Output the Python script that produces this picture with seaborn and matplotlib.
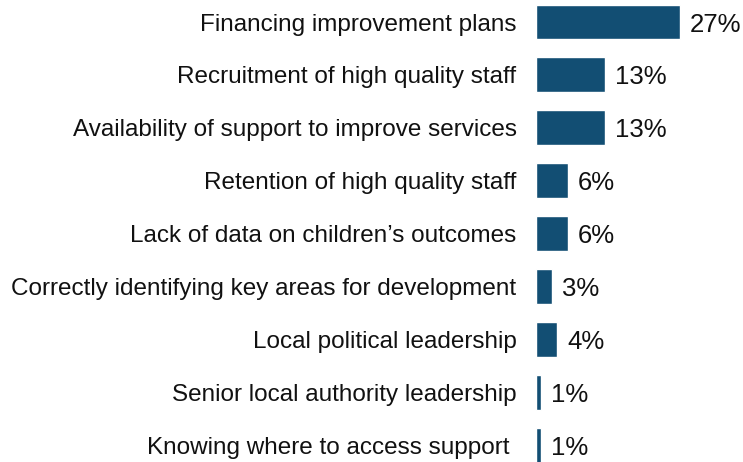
import pandas as pd
import matplotlib
import matplotlib.pyplot as plt
import seaborn as sns

matplotlib.use('Agg')

categories = [
    'Financing improvement plans',
    'Recruitment of high quality staff',
    'Availability of support to improve services',
    'Retention of high quality staff',
    'Lack of data on children\u2019s outcomes',
    'Correctly identifying key areas for development',
    'Local political leadership',
    'Senior local authority leadership',
    'Knowing where to access support ',
]
values = [27, 13, 13, 6, 6, 3, 4, 1, 1]
value_labels = ['27%', '13%', '13%', '6%', '6%', '3%', '4%', '1%', '1%']

bar_color = '#124e73'

df = pd.DataFrame({'Category': categories, 'Value': values})

sns.set_style('white')
plt.rcParams['font.family'] = ['Liberation Sans', 'DejaVu Sans']

fig = plt.figure(figsize=(7.43, 4.62), dpi=100)
ax = fig.add_axes([0.7214, 0.0, 0.272, 1.0])

sns.barplot(data=df, x='Value', y='Category', orient='h', color=bar_color,
            saturation=1, width=0.66, ax=ax)

for i, (v, lab) in enumerate(zip(values, value_labels)):
    ax.annotate(lab, xy=(v, i), xytext=(7, 0), textcoords='offset points',
                va='center_baseline', ha='left', fontsize=18.5, color='#111111')

ax.set_xlim(0, 38)
ax.set_ylim(8.318, -0.416)
ax.set_xlabel('')
ax.set_ylabel('')
ax.set_xticks([])
ax.tick_params(axis='y', length=0, pad=14, labelsize=17.5, labelcolor='#111111')
sns.despine(ax=ax, left=True, bottom=True)

plt.savefig('out.png', dpi=100)
